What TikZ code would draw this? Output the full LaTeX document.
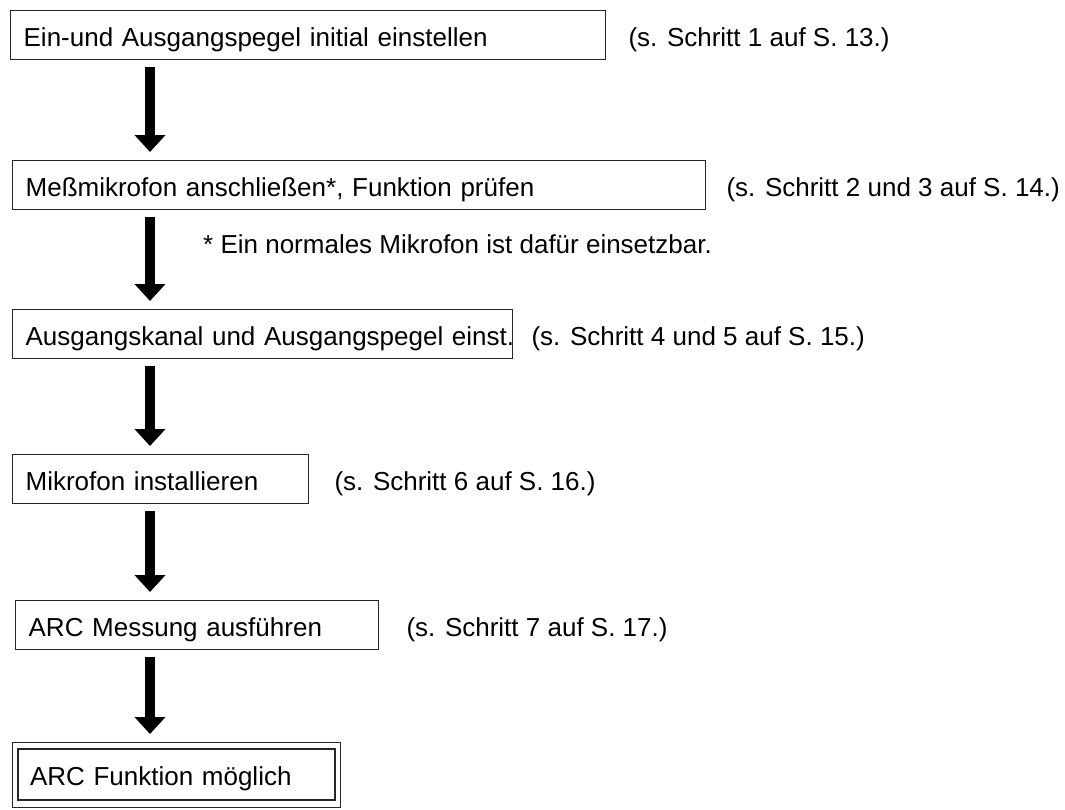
\documentclass[tikz,border=0pt]{standalone}
\usepackage{fontspec}
\setmainfont{Liberation Sans}
\usetikzlibrary{positioning}
\usetikzlibrary{arrows.meta}

\begin{document}
\begin{tikzpicture}[x=1pt,y=-1pt,
  stepbox/.style={draw=black!85,line width=1.3pt,anchor=north west,align=left,inner xsep=13pt,minimum height=49pt,text height=22pt,text depth=0pt,font=\fontsize{26}{30}\selectfont},
  hint/.style={inner sep=0pt,text height=22pt,text depth=0pt,font=\fontsize{26}{30}\selectfont},
  down/.style={-{Triangle[width=30pt,length=17pt]},line width=10pt,shorten <=7pt,shorten >=8pt}]
\useasboundingbox (0,0) rectangle (1065,809);
\coordinate (ax) at (150,0);

\node [stepbox,text width=569pt] (ein) at (10,10) {Ein-und Ausgangspegel initial einstellen};
\node [stepbox,text width=667pt] (mess) at (12,160) {Meßmikrofon anschließen*, Funktion prüfen};
\node [stepbox,text width=474pt] (kanal) at (12,309) {\mbox{Ausgangskanal und Ausgangspegel einst.}};
\node [stepbox,text width=270pt] (inst) at (12,454) {Mikrofon installieren};
\node [stepbox,text width=337pt] (arc) at (15,600) {ARC Messung ausführen};
\node [stepbox,text width=293pt,inner xsep=12pt,line width=2pt,minimum height=51pt] (ok) at (17,748) {ARC Funktion möglich};
\draw [black!85,line width=1pt] ([xshift=-5pt,yshift=6pt]ok.north west) rectangle ([xshift=4pt,yshift=-6pt]ok.south east);

\node [hint,right=22pt of ein] (s1) {(s. Schritt 1 auf S. 13.)};
\node [hint,right=20pt of mess] (s2) {(s. Schritt 2 und 3 auf S. 14.)};
\node [hint,anchor=west] (fn) at (203,242) {* Ein normales Mikrofon ist dafür einsetzbar.};
\node [hint,right=18pt of kanal] (s3) {(s. Schritt 4 und 5 auf S. 15.)};
\node [hint,right=25pt of inst] (s4) {(s. Schritt 6 auf S. 16.)};
\node [hint,right=27pt of arc] (s5) {(s. Schritt 7 auf S. 17.)};

\draw [down] (ein.south -| ax) -- (mess.north -| ax);
\draw [down] (mess.south -| ax) -- (kanal.north -| ax);
\draw [down] (kanal.south -| ax) -- (inst.north -| ax);
\draw [down] (inst.south -| ax) -- (arc.north -| ax);
\draw [down] (arc.south -| ax) -- ([yshift=6pt]ok.north -| ax);
\end{tikzpicture}
\end{document}
